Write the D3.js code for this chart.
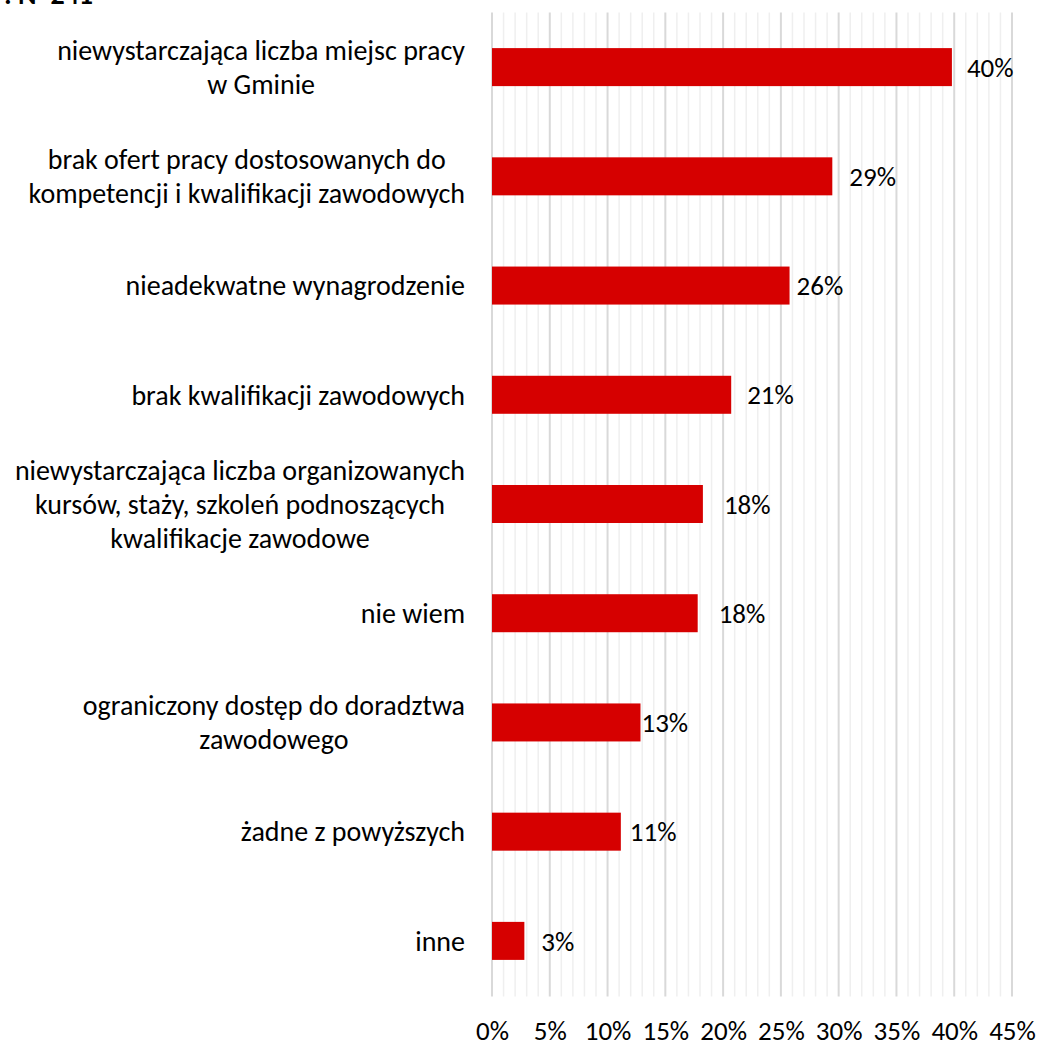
<!DOCTYPE html>
<html><head><meta charset="utf-8">
<script src="https://cdn.jsdelivr.net/npm/d3@7"></script>
<style>body{margin:0;background:#fff}svg{display:block}text{font-family:Carlito,Lato,"Open Sans",sans-serif}</style>
</head><body><svg id="c" width="1038" height="1042"></svg>
<script>
const categories = [
  ["niewystarczająca liczba miejsc pracy","w Gminie"],
  ["brak ofert pracy dostosowanych do","kompetencji i kwalifikacji zawodowych"],
  ["nieadekwatne wynagrodzenie"],
  ["brak kwalifikacji zawodowych"],
  ["niewystarczająca liczba organizowanych","kursów, staży, szkoleń podnoszących","kwalifikacje zawodowe"],
  ["nie wiem"],
  ["ograniczony dostęp do doradztwa","zawodowego"],
  ["żadne z powyższych"],
  ["inne"]
];
const values = [39.8, 29.45, 25.75, 20.7, 18.25, 17.8, 12.85, 11.15, 2.8];
const valueLabels = ["40%","29%","26%","21%","18%","18%","13%","11%","3%"];
const tickValues = [0,5,10,15,20,25,30,35,40,45];
const tickLabels = ["0%","5%","10%","15%","20%","25%","30%","35%","40%","45%"];
const note = ": N=241";
// layout-only: horizontal gap between bar end and its value label (px)
const labelGap = [15, 17, 7, 16, 21, 21, 1, 9, 17];

(function(){
const svg = d3.select("#c");
const fsCat = 28, fsNum = 27;
const plotTop = 12.5, plotBottom = 995.5;
const x = d3.scaleLinear().domain([0,45]).range([492,1012]);
const idx = categories.map((d,i)=>i);
const y = d3.scaleBand().domain(idx).range([plotTop,plotBottom]).paddingInner(0.652).paddingOuter(0.326);

// gridlines
const minor = d3.range(0,46,1);
svg.append("g").selectAll("line").data(minor.filter(d=>d%5!==0)).join("line")
  .attr("x1",d=>x(d)).attr("x2",d=>x(d)).attr("y1",plotTop).attr("y2",plotBottom+1)
  .attr("stroke","#efefef").attr("stroke-width",1.5);
svg.append("g").selectAll("line").data(tickValues).join("line")
  .attr("x1",d=>x(d)).attr("x2",d=>x(d)).attr("y1",plotTop).attr("y2",plotBottom+1)
  .attr("stroke","#d9d9d9").attr("stroke-width",2);

// bars
svg.append("g").selectAll("rect").data(values).join("rect")
  .attr("x",x(0)).attr("y",(d,i)=>y(i)).attr("width",d=>x(d)-x(0)).attr("height",y.bandwidth())
  .attr("fill","#d60000");

// value labels
svg.append("g").selectAll("text").data(values).join("text")
  .attr("x",(d,i)=>x(d)+labelGap[i]).attr("y",(d,i)=>y(i)+y.bandwidth()/2)
  .attr("dy","0.36em").attr("font-size",fsNum).attr("fill","#000")
  .text((d,i)=>valueLabels[i]);

// category labels
const lh = 34;
const cg = svg.append("g");
categories.forEach((lines,i)=>{
  const g = cg.append("g");
  const cy = y(i)+y.bandwidth()/2;
  const ts = lines.map((l,j)=>g.append("text").attr("font-size",fsCat).attr("fill","#000")
      .attr("y",cy+(j-(lines.length-1)/2)*lh).attr("dy","0.35em").text(l));
  const maxW = d3.max(ts,t=>t.node().getComputedTextLength());
  ts.forEach(t=>t.attr("x",465-maxW/2).attr("text-anchor","middle"));
});

// x axis
const ax = svg.append("g").attr("transform","translate(0,1021)")
  .call(d3.axisBottom(x).tickValues(tickValues).tickFormat((d,i)=>tickLabels[i]).tickSize(0).tickPadding(0));
ax.select(".domain").remove();
ax.selectAll("text").attr("font-size",fsNum).attr("font-family","Carlito,Lato,'Open Sans',sans-serif").attr("fill","#000").attr("dy","0.71em");

// clipped note at top-left
svg.append("text").attr("x",4).attr("y",4).attr("font-size",fsCat).attr("font-weight","bold").text(note);
})();
</script></body></html>
